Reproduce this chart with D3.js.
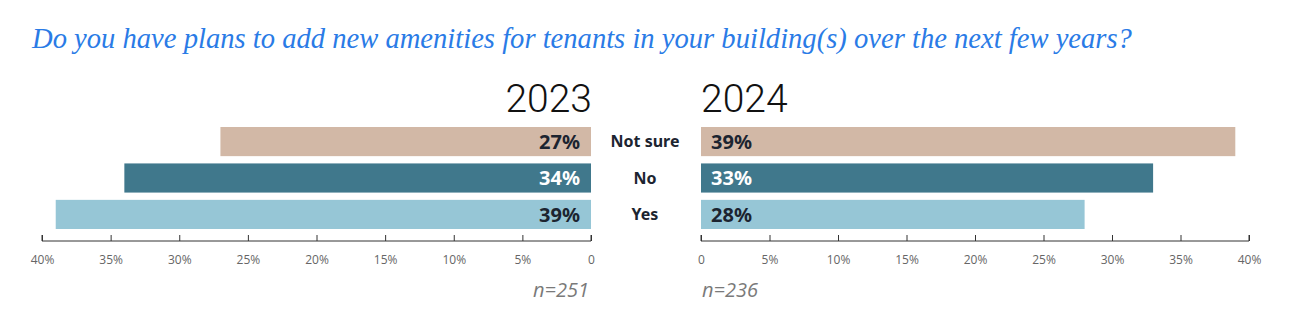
<!DOCTYPE html>
<html>
<head>
<meta charset="utf-8">
<script src="https://cdn.jsdelivr.net/npm/d3@7"></script>
<style>
  html, body { margin: 0; padding: 0; background: #fff; }
  svg { display: block; }
</style>
</head>
<body>
<svg id="chart" width="1297" height="324"></svg>
<script>
// Survey answers, one row per response option
const categories = ["Not sure", "No", "Yes"];
const values2023 = [27, 34, 39];
const values2024 = [39, 33, 28];
const years = ["2023", "2024"];
const sampleSizes = ["n=251", "n=236"];
const tickValues = [0, 5, 10, 15, 20, 25, 30, 35, 40];
const title = "Do you have plans to add new amenities for tenants in your building(s) over the next few years?";

const colors = { "Not sure": "#d2b8a6", "No": "#40788c", "Yes": "#96c6d6" };
const labelColors = { "Not sure": "#1c2430", "No": "#ffffff", "Yes": "#1c2430" };

const svg = d3.select("#chart");

// Title, sized so it spans the heading width
const titleText = svg.append("text")
  .attr("x", 32)
  .attr("y", 48)
  .attr("fill", "#2a7be6")
  .style("font-family", "'Liberation Serif', 'DejaVu Serif', serif")
  .style("font-style", "italic")
  .style("font-size", "26px")
  .text(title);
const titleWidth = titleText.node().getComputedTextLength();
titleText.style("font-size", (26 * 1100 / titleWidth).toFixed(2) + "px");

// Shared vertical band scale for the three answer rows
const y = d3.scaleBand()
  .domain(categories)
  .range([127, 229])
  .paddingInner(0.2)
  .paddingOuter(0);

const axisY = 241;

// Left panel: bars grow leftwards from 0
const xLeft = d3.scaleLinear().domain([0, 40]).range([591, 42]);
// Right panel: bars grow rightwards from 0
const xRight = d3.scaleLinear().domain([0, 40]).range([701, 1249]);

function panel(xs, values, year, n, side) {
  const g = svg.append("g");
  const zero = xs(0);

  g.selectAll("rect")
    .data(categories)
    .join("rect")
    .attr("x", (d, i) => Math.min(zero, xs(values[i])))
    .attr("width", (d, i) => Math.abs(xs(values[i]) - zero))
    .attr("y", d => y(d))
    .attr("height", y.bandwidth())
    .attr("fill", d => colors[d]);

  g.selectAll("text.val")
    .data(categories)
    .join("text")
    .attr("class", "val")
    .attr("x", side === "left" ? zero - 11 : zero + 10)
    .attr("y", d => y(d) + y.bandwidth() / 2)
    .attr("dy", "0.36em")
    .attr("text-anchor", side === "left" ? "end" : "start")
    .attr("fill", d => labelColors[d])
    .style("font-family", "'Noto Sans', 'Open Sans', sans-serif")
    .style("font-weight", "700")
    .style("font-size", "20px")
    .text((d, i) => values[i] + "%");

  // Year heading
  g.append("text")
    .attr("x", side === "left" ? zero + 1 : zero)
    .attr("y", 112)
    .attr("text-anchor", side === "left" ? "end" : "start")
    .attr("fill", "#111")
    .style("font-family", "Roboto, Lato, sans-serif")
    .style("font-weight", "300")
    .style("font-size", "39px")
    .text(year);

  // Axis with ticks pointing up
  const axis = d3.axisBottom(xs)
    .tickValues(tickValues)
    .tickSize(-6)
    .tickPadding(14)
    .tickFormat(d => d === 0 ? "0" : d + "%");

  const ag = g.append("g")
    .attr("transform", `translate(0,${axisY})`)
    .call(axis);
  ag.select(".domain").attr("stroke", "#333").attr("d",
    `M${xs.range()[0]},-6V0H${xs.range()[1]}V-6`);
  ag.selectAll(".tick line").attr("stroke", "#333");
  ag.selectAll(".tick text")
    .attr("fill", "#666")
    .style("font-family", "'Open Sans', 'Noto Sans', sans-serif")
    .style("font-size", "12px");

  // Sample size note
  g.append("text")
    .attr("x", side === "left" ? zero - 2 : zero + 1)
    .attr("y", 297)
    .attr("text-anchor", side === "left" ? "end" : "start")
    .attr("fill", "#7a7a7a")
    .style("font-family", "'Open Sans', 'Noto Sans', sans-serif")
    .style("font-style", "italic")
    .style("font-size", "20px")
    .text(n);
}

panel(xLeft, values2023, years[0], sampleSizes[0], "left");
panel(xRight, values2024, years[1], sampleSizes[1], "right");

// Category labels between the panels
svg.append("g")
  .selectAll("text")
  .data(categories)
  .join("text")
  .attr("x", 645)
  .attr("y", d => y(d) + y.bandwidth() / 2)
  .attr("dy", "0.36em")
  .attr("text-anchor", "middle")
  .attr("fill", "#1c2430")
  .style("font-family", "'Noto Sans', 'Open Sans', sans-serif")
  .style("font-weight", "700")
  .style("font-size", "16px")
  .text(d => d);
</script>
</body>
</html>
